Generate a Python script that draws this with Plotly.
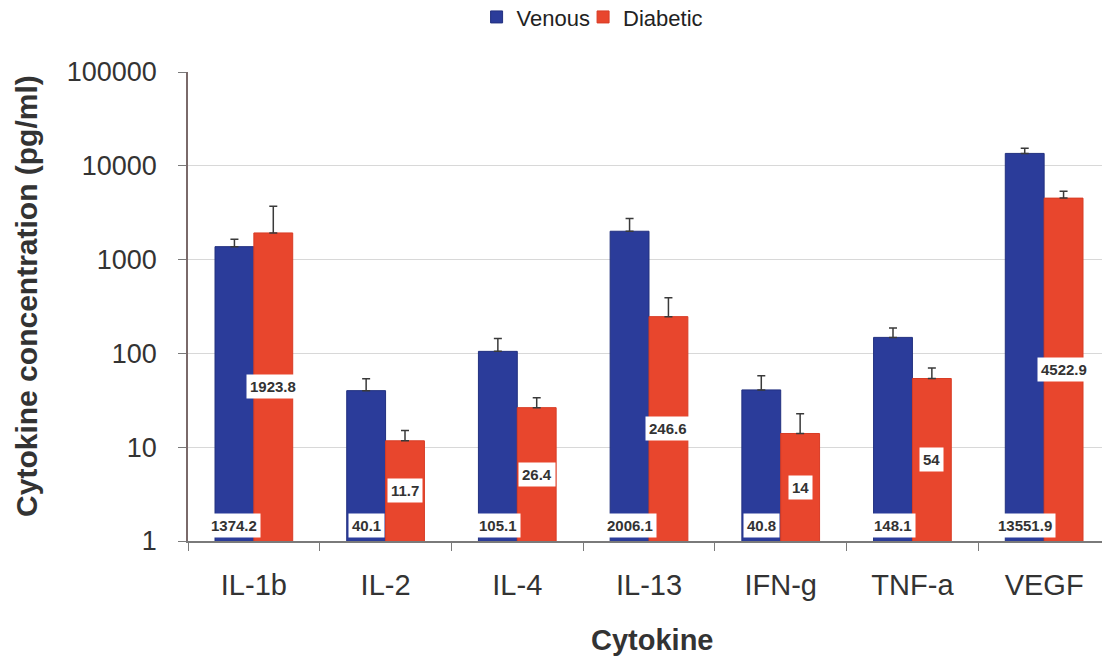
import plotly.graph_objects as go
import math

categories = ["IL-1b", "IL-2", "IL-4", "IL-13", "IFN-g", "TNF-a", "VEGF"]
venous = [1374.2, 40.1, 105.1, 2006.1, 40.8, 148.1, 13551.9]
diabetic = [1923.8, 11.7, 26.4, 246.6, 14, 54, 4522.9]
venous_err = [270, 13.7, 39, 730, 17, 39, 1850]
diabetic_err = [1780, 3.4, 7.3, 145, 8.7, 16, 830]
venous_labels = ["1374.2", "40.1", "105.1", "2006.1", "40.8", "148.1", "13551.9"]
diabetic_labels = ["1923.8", "11.7", "26.4", "246.6", "14", "54", "4522.9"]
ytick_vals = [1, 10, 100, 1000, 10000, 100000]
ytick_text = ["1", "10", "100", "1000", "10000", "100000"]

BLUE = "#2b3c9a"
RED = "#e8462d"
BARGAP = 0.41
CAT_PX = 922 / 7
HALF = CAT_PX * (1 - BARGAP) / 4

fig = go.Figure()
fig.add_trace(go.Bar(
    name="Venous", x=categories, y=venous, marker_color=BLUE,
    marker_line=dict(width=1, color="#22307f"), legend="legend",
    showlegend=True,
    error_y=dict(type="data", symmetric=False, array=venous_err,
                 arrayminus=[0] * len(venous), color="#3a3a3a",
                 thickness=1.5, width=4)))
fig.add_trace(go.Bar(
    name="Diabetic", x=categories, y=diabetic, marker_color=RED,
    marker_line=dict(width=1, color="#d83c25"), legend="legend2",
    showlegend=True,
    error_y=dict(type="data", symmetric=False, array=diabetic_err,
                 arrayminus=[0] * len(diabetic), color="#3a3a3a",
                 thickness=1.5, width=4)))

lab_font = dict(family="Arial, Liberation Sans", size=15, color="#333333")
for c, v, t in zip(categories, venous, venous_labels):
    fig.add_annotation(x=c, y=math.log10(1.45), text="<b>%s</b>" % t,
                       xref="x", yref="y", showarrow=False, xshift=-HALF,
                       bgcolor="white", borderpad=3, font=lab_font)
for c, v, t in zip(categories, diabetic, diabetic_labels):
    fig.add_annotation(x=c, y=math.log10(v) / 2, text="<b>%s</b>" % t,
                       xref="x", yref="y", showarrow=False, xshift=HALF,
                       bgcolor="white", borderpad=3, font=lab_font)

# axis titles
fig.add_annotation(text="<b>Cytokine concentration (pg/ml)</b>", textangle=-90,
                   xref="paper", yref="paper", x=-0.176, y=0.522,
                   xanchor="center", yanchor="middle",
                   showarrow=False, font=dict(size=30, color="#333333"))
fig.add_annotation(text="<b>Cytokine</b>",
                   xref="paper", yref="paper", x=0.503, y=-0.211,
                   xanchor="center", yanchor="middle",
                   showarrow=False, font=dict(size=29, color="#333333"))

leg_common = dict(orientation="h", xanchor="left", y=1.117, yanchor="middle",
                  font=dict(size=22, color="#222222"), visible=True,
                  entrywidthmode="pixels", bgcolor="rgba(0,0,0,0)")

fig.update_layout(
    width=1110, height=658,
    margin=dict(l=180, r=8, t=64, b=125, autoexpand=False),
    paper_bgcolor="white", plot_bgcolor="white",
    showlegend=True,
    barmode="group", bargap=BARGAP, bargroupgap=0,
    font=dict(family="Arial, Liberation Sans", color="#333333"),
    legend=dict(x=0.313, entrywidth=82, **leg_common),
    legend2=dict(x=0.4285, entrywidth=92, **leg_common),
    xaxis=dict(
        automargin=False,
        tickfont=dict(size=29, color="#333333"),
        showline=True, linecolor="#7a7a7a", linewidth=1.5,
        ticks="outside", tickson="boundaries", ticklen=8,
        tickcolor="#7a7a7a", showgrid=False, ticklabelstandoff=17),
    yaxis=dict(
        automargin=False,
        type="log", range=[0, 5],
        tickvals=ytick_vals, ticktext=ytick_text,
        tickfont=dict(size=27, color="#333333"),
        showline=True, linecolor="#7a6a6a", linewidth=1.5,
        ticks="outside", ticklen=8, tickcolor="#7a7a7a",
        showgrid=True, gridcolor="#d8d8d8", gridwidth=1,
        zeroline=False, ticklabelstandoff=16),
)

fig.write_html("out.html")
